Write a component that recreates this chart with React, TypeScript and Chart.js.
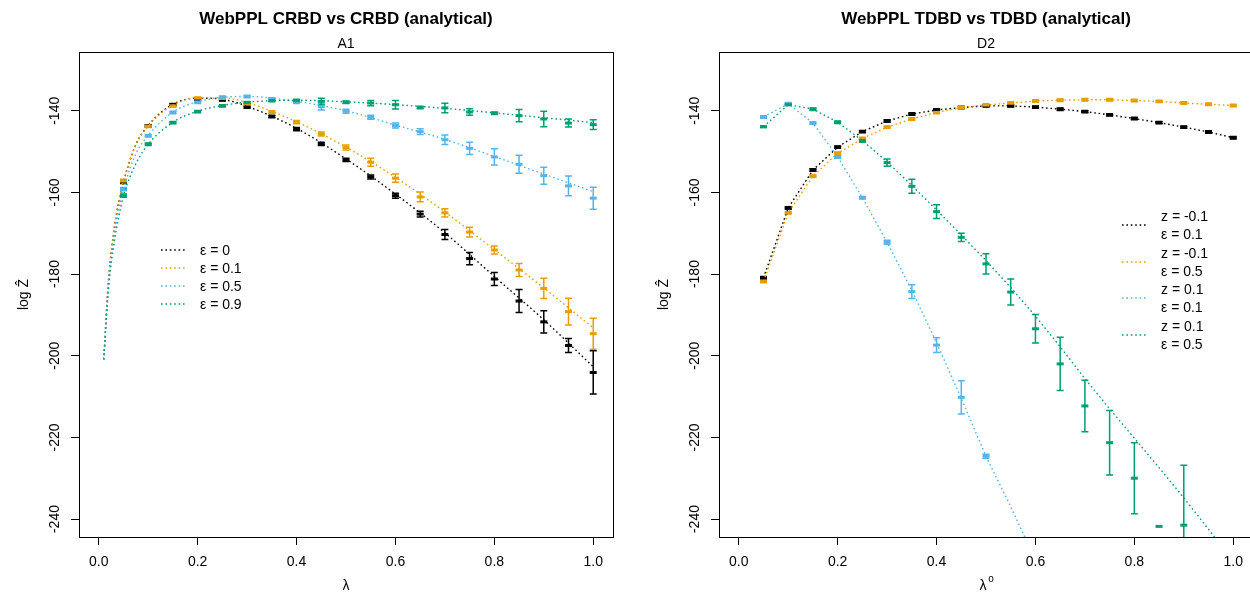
import React, { useEffect, useRef } from "react";
import { Chart, registerables } from "chart.js";

Chart.register(...registerables);

const FONT = '"Liberation Sans", Arial, Helvetica, sans-serif';

const COL_BLACK = "#000000";
const COL_ORANGE = "#E69F00";
const COL_BLUE = "#56B4E9";
const COL_GREEN = "#009E73";

// ---------- shared axes ----------
const xTicks = [0, 0.2, 0.4, 0.6, 0.8, 1.0];
const yTicks = [-240, -220, -200, -180, -160, -140];
const X_MIN = -0.04;
const X_MAX = 1.04;
const Y_MIN = -244.4;
const Y_MAX = -125.6;

// ---------- left panel: CRBD ----------
const lambdaPts = [0.05, 0.1, 0.15, 0.2, 0.25, 0.3, 0.35, 0.4, 0.45, 0.5, 0.55, 0.6, 0.65, 0.7, 0.75, 0.8, 0.85, 0.9, 0.95, 1.0];

const crbdEps0Mean = [-157.4, -143.7, -138.5, -137.1, -137.3, -139.1, -141.4, -144.5, -148.1, -152.0, -156.2, -160.8, -165.3, -170.3, -176.2, -181.2, -186.6, -191.7, -197.5, -204.1];
const crbdEps0Err = [0.4, 0.3, 0.3, 0.3, 0.3, 0.3, 0.3, 0.4, 0.4, 0.4, 0.5, 0.6, 0.7, 1.2, 1.5, 1.6, 2.8, 2.7, 1.7, 5.3];

const crbdEps01Mean = [-157.2, -143.8, -138.8, -136.9, -137.0, -138.3, -140.3, -142.8, -145.7, -149.0, -152.6, -156.5, -161.1, -165.0, -169.7, -174.1, -179.0, -183.5, -189.2, -194.6];
const crbdEps01Err = [0.4, 0.3, 0.3, 0.3, 0.3, 0.3, 0.3, 0.4, 0.5, 0.6, 1.0, 1.0, 1.2, 1.0, 1.2, 1.0, 1.6, 2.5, 3.3, 3.8];

const crbdEps05Mean = [-159.2, -146.1, -140.4, -137.9, -136.7, -136.5, -137.1, -137.8, -139.0, -140.1, -141.6, -143.6, -145.1, -147.1, -149.2, -151.3, -153.1, -155.9, -158.4, -161.4];
const crbdEps05Err = [0.4, 0.3, 0.3, 0.3, 0.3, 0.3, 0.3, 0.4, 0.8, 0.5, 0.5, 0.6, 0.7, 1.15, 1.5, 2.0, 2.2, 2.1, 2.4, 2.7];

const crbdEps09Mean = [-160.8, -148.2, -142.9, -140.2, -138.8, -138.0, -137.5, -137.5, -137.7, -137.9, -138.1, -138.5, -139.2, -139.3, -140.3, -140.6, -141.2, -142.0, -143.0, -143.4];
const crbdEps09Err = [0.4, 0.3, 0.3, 0.3, 0.3, 0.3, 0.3, 0.3, 0.8, 0.3, 0.65, 1.05, 0.3, 1.15, 0.8, 0.3, 1.5, 1.9, 1.0, 1.2];

const lambdaLine = [0.01, 0.02, 0.03, 0.04, 0.05, 0.075, 0.1, 0.15, 0.2, 0.25, 0.3, 0.4, 0.5, 0.6, 0.7, 0.8, 0.9, 1.0];
const crbdEps0Analytic = [-200.9, -181.0, -170.0, -162.5, -157.4, -148.3, -143.6, -138.4, -136.9, -137.2, -138.9, -144.3, -151.8, -160.4, -169.9, -180.6, -191.2, -202.7];
const crbdEps01Analytic = [-200.9, -181.0, -170.0, -162.4, -157.2, -148.3, -143.7, -138.6, -136.8, -136.8, -138.0, -142.7, -148.9, -156.3, -164.8, -174.0, -183.4, -193.2];
const crbdEps05Analytic = [-200.9, -182.0, -171.6, -164.3, -159.2, -150.5, -146.0, -140.3, -137.8, -136.7, -136.5, -137.7, -140.0, -143.5, -147.0, -151.2, -155.5, -159.8];
const crbdEps09Analytic = [-200.9, -183.2, -173.2, -166.2, -160.8, -153.0, -148.2, -142.8, -140.1, -138.7, -137.9, -137.4, -137.8, -138.5, -139.4, -140.5, -141.7, -142.9];

const leftLegend = ["ε = 0", "ε = 0.1", "ε = 0.5", "ε = 0.9"];

// ---------- right panel: TDBD ----------
const lambdaTd = [0.05, 0.1, 0.15, 0.2, 0.25, 0.3, 0.35, 0.4, 0.45, 0.5, 0.55, 0.6, 0.65, 0.7, 0.75, 0.8, 0.85, 0.9, 0.95, 1.0];

const tdZm01E01Mean = [-180.9, -163.8, -154.5, -148.9, -145.1, -142.5, -140.8, -139.8, -139.2, -138.8, -138.8, -139.1, -139.6, -140.2, -141.0, -141.9, -142.9, -144.0, -145.2, -146.6];
const tdZm01E05Mean = [-181.8, -165.0, -156.0, -150.4, -146.8, -144.0, -142.0, -140.4, -139.2, -138.6, -138.1, -137.6, -137.4, -137.3, -137.3, -137.5, -137.7, -138.1, -138.4, -138.7];

const lambdaTdBlue = [0.05, 0.1, 0.15, 0.2, 0.25, 0.3, 0.35, 0.4, 0.45, 0.5];
const tdZ01E01Mean = [-141.5, -138.3, -143.0, -151.3, -161.3, -172.2, -184.3, -197.4, -210.2, -224.6];
const tdZ01E01Err = [0.3, 0.3, 0.3, 0.3, 0.3, 0.5, 1.7, 1.8, 4.1, 0.5];

const lambdaTdGreen = [0.05, 0.1, 0.15, 0.2, 0.25, 0.3, 0.35, 0.4, 0.45, 0.5, 0.55, 0.6, 0.65, 0.7, 0.75, 0.8, 0.85, 0.9];
const tdZ01E05Mean = [-143.9, -138.5, -139.6, -142.8, -147.3, -152.7, -158.5, -164.7, -171.0, -177.5, -184.4, -193.4, -202.0, -212.3, -221.3, -230.0, -241.8, -241.5];
const tdZ01E05Err = [0.2, 0.2, 0.3, 0.3, 0.4, 0.9, 1.7, 1.7, 1.0, 2.5, 3.2, 3.5, 6.5, 6.3, 7.9, 8.7, 0, 14.7];

const lambdaTdBlueLine = [0.05, 0.1, 0.15, 0.2, 0.25, 0.3, 0.35, 0.4, 0.45, 0.5, 0.55, 0.6];
const tdZ01E01Analytic = [-141.5, -138.3, -143.0, -151.3, -161.3, -172.2, -184.0, -196.8, -210.5, -224.6, -237.0, -250.0];
const tdZ01E05Analytic = [-143.9, -138.5, -139.6, -142.8, -147.3, -152.5, -158.3, -164.3, -170.4, -176.7, -183.3, -190.3, -197.8, -205.6, -213.0, -220.2, -227.4, -234.8, -242.5, -250.3];

const rightLegend = [
  ["z = -0.1", "ε = 0.1"],
  ["z = -0.1", "ε = 0.5"],
  ["z = 0.1", "ε = 0.1"],
  ["z = 0.1", "ε = 0.5"],
];

const DASH = [1.6, 2.8];
const toXY = (xs: number[], ys: number[]) => xs.map((x, i) => ({ x, y: ys[i] }));

function lineDs(xs: number[], ys: number[], color: string, order: number, smooth: boolean) {
  return {
    type: "line",
    data: toXY(xs, ys),
    borderColor: color,
    borderWidth: 1.4,
    borderDash: DASH,
    pointRadius: 0,
    fill: false,
    tension: 0,
    cubicInterpolationMode: smooth ? "monotone" : "default",
    order,
  };
}

function pointDs(xs: number[], ys: number[], errs: number[], color: string, order: number) {
  return {
    type: "line",
    data: toXY(xs, ys),
    showLine: false,
    pointStyle: "line",
    pointRadius: 3.5,
    pointBorderWidth: 3,
    pointBorderColor: color,
    pointBackgroundColor: color,
    borderColor: color,
    errors: errs,
    order,
  };
}

const errorBarPlugin = {
  id: "errorBars",
  beforeDatasetsDraw(chart: any) {
    const { ctx, chartArea, scales } = chart;
    ctx.save();
    ctx.beginPath();
    ctx.rect(chartArea.left, chartArea.top, chartArea.right - chartArea.left, chartArea.bottom - chartArea.top);
    ctx.clip();
    chart.data.datasets.forEach((ds: any) => {
      if (!ds.errors) return;
      ctx.strokeStyle = ds.borderColor;
      ctx.lineWidth = 1.5;
      ds.data.forEach((p: any, i: number) => {
        const e = ds.errors[i];
        if (!e) return;
        const x = scales.x.getPixelForValue(p.x);
        const y1 = scales.y.getPixelForValue(p.y + e);
        const y2 = scales.y.getPixelForValue(p.y - e);
        ctx.beginPath();
        ctx.moveTo(x, y1);
        ctx.lineTo(x, y2);
        ctx.moveTo(x - 3.5, y1);
        ctx.lineTo(x + 3.5, y1);
        ctx.moveTo(x - 3.5, y2);
        ctx.lineTo(x + 3.5, y2);
        ctx.stroke();
      });
    });
    ctx.restore();
  },
};

function decorPlugin(panel: "left" | "right") {
  return {
    id: "decor",
    afterDraw(chart: any) {
      const { ctx, chartArea, scales } = chart;
      const ca = chartArea;
      ctx.save();
      // box
      ctx.strokeStyle = "#000";
      ctx.lineWidth = 1;
      ctx.strokeRect(Math.round(ca.left) + 0.5, Math.round(ca.top) + 0.5, Math.round(ca.right - ca.left), Math.round(ca.bottom - ca.top));
      ctx.fillStyle = "#000";
      // x tick labels
      ctx.font = `14px ${FONT}`;
      ctx.textAlign = "center";
      ctx.textBaseline = "alphabetic";
      xTicks.forEach((v) => {
        const x = scales.x.getPixelForValue(v);
        ctx.fillText(v.toFixed(1), x, 566);
      });
      // y tick labels (rotated)
      yTicks.forEach((v) => {
        const y = scales.y.getPixelForValue(v);
        ctx.save();
        ctx.translate(58.7, y);
        ctx.rotate(-Math.PI / 2);
        ctx.fillText(String(v), 0, 0);
        ctx.restore();
      });
      const cx = (ca.left + ca.right) / 2;
      // title
      ctx.font = `bold 17px ${FONT}`;
      ctx.fillText(panel === "left" ? "WebPPL CRBD vs CRBD (analytical)" : "WebPPL TDBD vs TDBD (analytical)", cx, 24);
      ctx.font = `14px ${FONT}`;
      ctx.fillText(panel === "left" ? "A1" : "D2", cx, 48);
      // x axis title
      if (panel === "left") {
        ctx.fillText("λ", cx, 590);
      } else {
        ctx.fillText("λ", cx - 3, 590);
        ctx.font = `10px ${FONT}`;
        ctx.fillText("o", cx + 5, 582);
        ctx.font = `14px ${FONT}`;
      }
      // y axis title
      ctx.save();
      ctx.translate(28, (ca.top + ca.bottom) / 2);
      ctx.rotate(-Math.PI / 2);
      ctx.fillText("log Ẑ", 0, 0);
      ctx.restore();
      // legend
      ctx.textAlign = "left";
      ctx.lineWidth = 1.4;
      const cols = [COL_BLACK, COL_ORANGE, COL_BLUE, COL_GREEN];
      if (panel === "left") {
        const rows = [250, 268, 286, 304];
        leftLegend.forEach((t, i) => {
          ctx.strokeStyle = cols[i];
          ctx.setLineDash(DASH);
          ctx.beginPath();
          ctx.moveTo(161, rows[i]);
          ctx.lineTo(186, rows[i]);
          ctx.stroke();
          ctx.setLineDash([]);
          ctx.fillStyle = "#000";
          ctx.fillText(t, 200, rows[i] + 5);
        });
      } else {
        rightLegend.forEach((pair, i) => {
          const ly = Math.round(225 + 36.5 * i);
          ctx.strokeStyle = cols[i];
          ctx.setLineDash(DASH);
          ctx.beginPath();
          ctx.moveTo(482, ly);
          ctx.lineTo(507, ly);
          ctx.stroke();
          ctx.setLineDash([]);
          ctx.fillStyle = "#000";
          ctx.fillText(pair[0], 521, ly - 8.7 + 5);
          ctx.fillText(pair[1], 521, ly + 8.6 + 5);
        });
      }
      ctx.restore();
    },
  };
}

function makeConfig(panel: "left" | "right"): any {
  let datasets: any[];
  if (panel === "left") {
    datasets = [
      lineDs(lambdaLine, crbdEps0Analytic, COL_BLACK, 7, true),
      pointDs(lambdaPts, crbdEps0Mean, crbdEps0Err, COL_BLACK, 6),
      lineDs(lambdaLine, crbdEps01Analytic, COL_ORANGE, 5, true),
      pointDs(lambdaPts, crbdEps01Mean, crbdEps01Err, COL_ORANGE, 4),
      lineDs(lambdaLine, crbdEps05Analytic, COL_BLUE, 3, true),
      pointDs(lambdaPts, crbdEps05Mean, crbdEps05Err, COL_BLUE, 2),
      lineDs(lambdaLine, crbdEps09Analytic, COL_GREEN, 1, true),
      pointDs(lambdaPts, crbdEps09Mean, crbdEps09Err, COL_GREEN, 0),
    ];
  } else {
    const smallErr = lambdaTd.map(() => 0.3);
    datasets = [
      lineDs(lambdaTd, tdZm01E01Mean, COL_BLACK, 7, false),
      pointDs(lambdaTd, tdZm01E01Mean, smallErr, COL_BLACK, 6),
      lineDs(lambdaTd, tdZm01E05Mean, COL_ORANGE, 5, false),
      pointDs(lambdaTd, tdZm01E05Mean, smallErr, COL_ORANGE, 4),
      lineDs(lambdaTdBlueLine, tdZ01E01Analytic, COL_BLUE, 3, false),
      pointDs(lambdaTdBlue, tdZ01E01Mean, tdZ01E01Err, COL_BLUE, 2),
      lineDs(lambdaTd, tdZ01E05Analytic, COL_GREEN, 1, false),
      pointDs(lambdaTdGreen, tdZ01E05Mean, tdZ01E05Err, COL_GREEN, 0),
    ];
  }
  const gridOpts = { display: true, drawOnChartArea: false, drawTicks: true, tickLength: 8, color: "#000", lineWidth: 1 };
  return {
    type: "line",
    data: { datasets },
    options: {
      responsive: false,
      maintainAspectRatio: false,
      animation: false,
      devicePixelRatio: 1,
      layout: { padding: { top: 52, right: 27, left: 0, bottom: 0 } },
      plugins: { legend: { display: false }, tooltip: { enabled: false }, title: { display: false } },
      scales: {
        x: {
          type: "linear",
          min: X_MIN,
          max: X_MAX,
          afterBuildTicks: (s: any) => { s.ticks = xTicks.map((v) => ({ value: v })); },
          afterFit: (s: any) => { s.height = 55; },
          grid: gridOpts,
          border: { display: false },
          ticks: { display: false },
        },
        y: {
          type: "linear",
          min: Y_MIN,
          max: Y_MAX,
          afterBuildTicks: (s: any) => { s.ticks = yTicks.map((v) => ({ value: v })); },
          afterFit: (s: any) => { s.width = 79; },
          grid: gridOpts,
          border: { display: false },
          ticks: { display: false },
        },
      },
    },
    plugins: [errorBarPlugin, decorPlugin(panel)],
  };
}

function Panel({ panel, left }: { panel: "left" | "right"; left: number }) {
  const ref = useRef<HTMLCanvasElement>(null);
  useEffect(() => {
    if (!ref.current) return;
    const chart = new Chart(ref.current, makeConfig(panel));
    return () => chart.destroy();
  }, [panel]);
  return (
    <canvas
      ref={ref}
      width={640}
      height={592}
      style={{ position: "absolute", left, top: 0, width: 640, height: 592 }}
    />
  );
}

export default function App() {
  return (
    <div style={{ position: "fixed", left: 0, top: 0, width: 1250, height: 592, overflow: "hidden", background: "#fff" }}>
      <Panel panel="left" left={0} />
      <Panel panel="right" left={640} />
    </div>
  );
}
